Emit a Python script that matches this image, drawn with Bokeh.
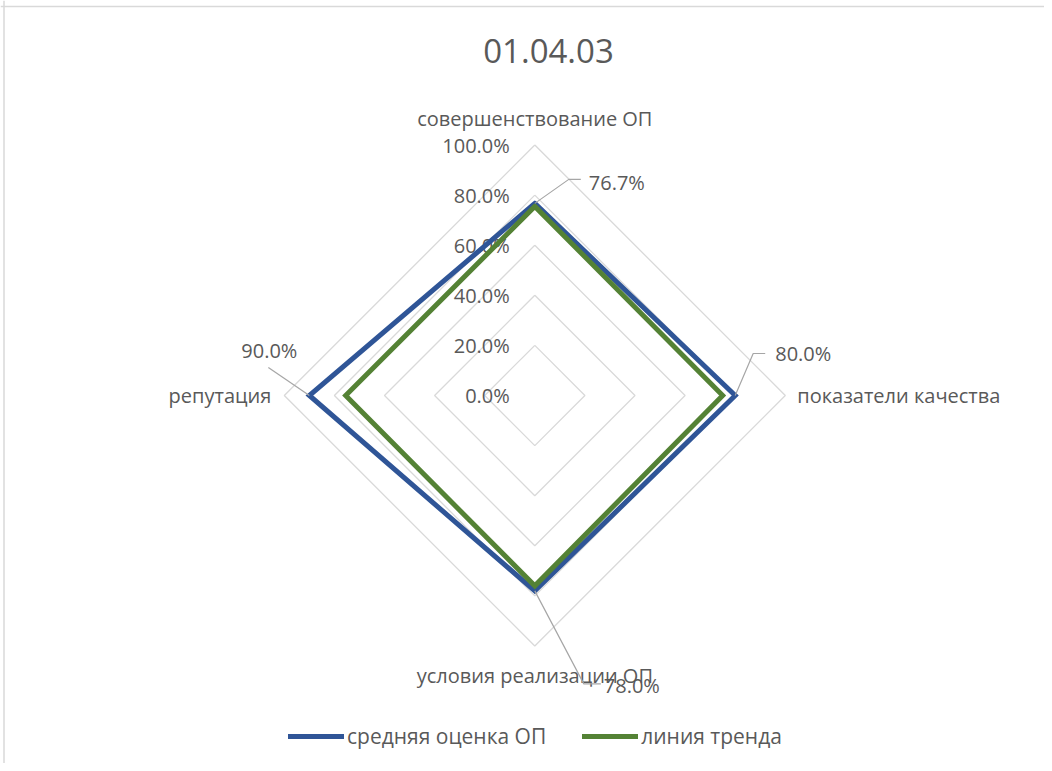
import numpy as np
from bokeh.plotting import figure
from bokeh.models import Range1d, Legend, LegendItem, Span, Label
from bokeh.core.properties import value
from bokeh.embed import file_html
from bokeh.resources import INLINE

# ---------------- data ----------------
chart_title = "01.04.03"
categories = ["совершенствование ОП", "показатели качества", "условия реализации ОП", "репутация"]
avg_scores = [0.767, 0.800, 0.780, 0.900]
trend_values = [0.755, 0.750, 0.760, 0.755]
tick_values = [0.0, 0.2, 0.4, 0.6, 0.8, 1.0]
tick_labels = ["0.0%", "20.0%", "40.0%", "60.0%", "80.0%", "100.0%"]
series_names = ["средняя оценка ОП", "линия тренда"]

# ---------------- layout ----------------
W, H = 1044, 763
CX, CY, R = 534.3, 395.0, 250.5   # radar centre / radius in figure pixels
PX = 1.0 / R                       # one pixel in data units
FONT = value("Open Sans")
TXT = "#595959"
GRID = "#D9D9D9"
BLUE = "#2F5597"
GREEN = "#548235"

n = len(categories)
theta = np.pi / 2 - np.arange(n) * 2 * np.pi / n


def polar(vals):
    v = np.asarray(vals, dtype=float)
    return v * np.cos(theta), v * np.sin(theta)


def closed(a):
    return list(a) + [a[0]]


p = figure(width=W, height=H, output_backend="svg", toolbar_location=None,
           x_range=Range1d(-CX * PX, (W - CX) * PX),
           y_range=Range1d(-(H - CY) * PX, CY * PX),
           min_border=0, outline_line_color=None)
p.axis.visible = False
p.grid.visible = False
p.background_fill_color = "white"
p.border_fill_color = "white"

# chart-area border (left and top visible in reference)
p.add_layout(Span(location=(3.5 - CX) * PX, dimension="height", line_color=GRID, line_width=1.5))
p.add_layout(Span(location=(CY - 6.0) * PX, dimension="width", line_color=GRID, line_width=1.5))

# grid diamonds
gx, gy = [], []
for t in tick_values[1:]:
    xs, ys = polar([t] * n)
    gx.append(closed(xs))
    gy.append(closed(ys))
p.multi_line(gx, gy, line_color=GRID, line_width=1.3)

# tick labels
p.text(x=[-25 * PX] * len(tick_values), y=tick_values, text=tick_labels,
       text_align="right", text_baseline="middle", text_font=FONT,
       text_font_size="20px", text_color=TXT)

# category labels
cat_off = [27, 12, 29, 13]
cat_align = ["center", "left", "center", "right"]
for i, c in enumerate(categories):
    r = 1.0 + cat_off[i] * PX
    p.text(x=[r * np.cos(theta[i])], y=[r * np.sin(theta[i])], text=[c],
           text_align=cat_align[i], text_baseline="middle", text_font=FONT,
           text_font_size="20px", text_color=TXT)

# series
bx, by = polar(avg_scores)
tx, ty = polar(trend_values)
r_blue = p.line(closed(bx), closed(by), line_color=BLUE, line_width=5,
                line_join="miter", line_cap="round")
r_green = p.line(closed(tx), closed(ty), line_color=GREEN, line_width=5,
                 line_join="miter", line_cap="round")

# data labels with leader lines (offsets in px from the vertex)
leader_pts = [[(34, 24), (46, 24)], [(18, 42), (30, 42)],
              [(49, -93), (66, -93)], [(-41, 28), (-41, 28)]]
label_off = [(54, 21), (40, 42), (69, -95), (-12, 45)]
label_align = ["left", "left", "left", "right"]
lx, ly = [], []
for i in range(n):
    xs = [bx[i]] + [bx[i] + dx * PX for dx, dy in leader_pts[i]]
    ys = [by[i]] + [by[i] + dy * PX for dx, dy in leader_pts[i]]
    lx.append(xs)
    ly.append(ys)
p.multi_line(lx, ly, line_color="#A6A6A6", line_width=1.2)
for i in range(n):
    dx, dy = label_off[i]
    p.text(x=[bx[i] + dx * PX], y=[by[i] + dy * PX], text=[f"{avg_scores[i] * 100:.1f}%"],
           text_align=label_align[i], text_baseline="middle", text_font=FONT,
           text_font_size="20px", text_color=TXT)

# title
p.add_layout(Label(x=548, y=H - 50, x_units="screen", y_units="screen", text=chart_title,
                   text_align="center", text_baseline="middle", text_font="Open Sans",
                   text_font_size="33px", text_color=TXT))

# legend
legend = Legend(items=[LegendItem(label=series_names[0], renderers=[r_blue]),
                       LegendItem(label=series_names[1], renderers=[r_green])],
                location=(288, 13), orientation="horizontal",
                padding=0, margin=0, spacing=36, glyph_width=56, glyph_height=20,
                label_standoff=3, label_text_font="Open Sans", label_text_font_size="21px",
                label_text_color=TXT, border_line_color=None, background_fill_alpha=0)
p.add_layout(legend)

open("out.html", "w").write(file_html(p, INLINE))
